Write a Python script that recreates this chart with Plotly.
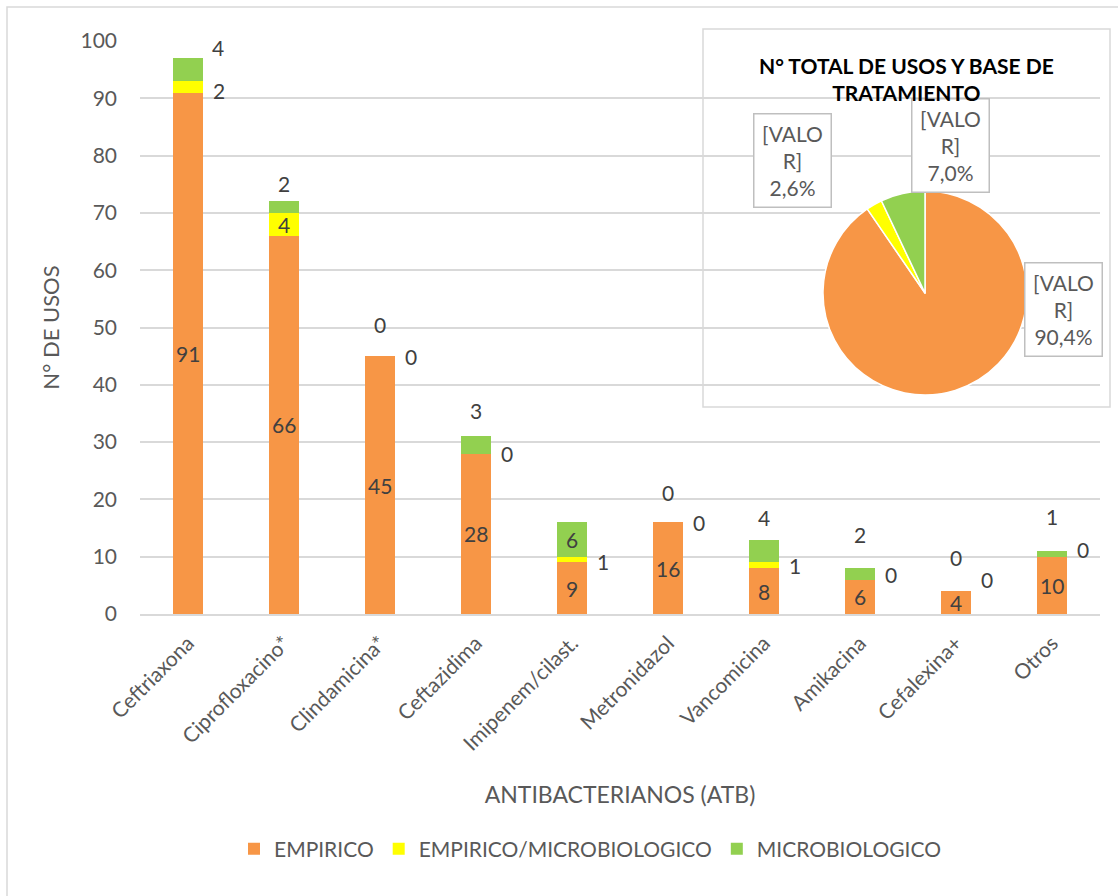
import plotly.graph_objects as go

# Antibacterial usage by treatment basis
antibioticos = ["Ceftriaxona", "Ciprofloxacino*", "Clindamicina*", "Ceftazidima",
                "Imipenem/cilast.", "Metronidazol", "Vancomicina", "Amikacina",
                "Cefalexina+", "Otros"]
empirico = [91, 66, 45, 28, 9, 16, 8, 6, 4, 10]
empirico_micro = [2, 4, 0, 0, 1, 0, 1, 0, 0, 0]
microbiologico = [4, 2, 0, 3, 6, 0, 4, 2, 0, 1]

series_names = ["EMPIRICO", "EMPIRICO/MICROBIOLOGICO", "MICROBIOLOGICO"]
colors = ["#F79646", "#FFFF00", "#92D050"]

# Data-label placement hints (pixels): where each stacked label sits
micro_inside = [False, False, False, False, True, False, False, False, False, False]
micro_dx = [30, 0, 0, 0, 0, 0, 0, 0, 0, 0]
micro_dy = [9, 16, 30, 24, 0, 28, 20, 32, 32, 32]
mixed_inside = [False, True, False, False, False, False, False, False, False, False]
mixed_dy = [-4, 0, 0, 0, -2, 0, 0, 5, 12, 7]

FONT = "Lato, 'Open Sans', sans-serif"
TXT = "#404040"
AX = "#595959"
GRID = "#D9D9D9"
LBL = 21

fig = go.Figure()
for name, vals, col in zip(series_names, [empirico, empirico_micro, microbiologico], colors):
    fig.add_trace(go.Bar(
        x=antibioticos, y=vals, name=name,
        marker=dict(color=col, line=dict(width=0)),
        width=0.315,
    ))


def data_label(cat, y, text, dx=0, dy=0):
    return dict(x=cat, y=y, xref="x", yref="y", text=text, showarrow=False,
                xanchor="center", yanchor="middle", xshift=dx, yshift=dy,
                font=dict(size=LBL, color=TXT, family=FONT))


annotations = []
for i, cat in enumerate(antibioticos):
    e, m, b = empirico[i], empirico_micro[i], microbiologico[i]
    total = e + m + b
    # EMPIRICO label centred in its segment
    annotations.append(data_label(cat, e / 2, str(e)))
    # EMPIRICO/MICROBIOLOGICO label
    if mixed_inside[i]:
        annotations.append(data_label(cat, e + m / 2, str(m)))
    else:
        annotations.append(data_label(cat, e + m / 2, str(m), dx=31, dy=mixed_dy[i]))
    # MICROBIOLOGICO label
    if micro_inside[i]:
        annotations.append(data_label(cat, e + m + b / 2, str(b)))
    else:
        annotations.append(data_label(cat, total, str(b), dx=micro_dx[i], dy=micro_dy[i] + 2))

# Inset pie: totals per treatment basis
totales = [sum(empirico), sum(empirico_micro), sum(microbiologico)]
gran_total = sum(totales)
porcentajes = [v / gran_total * 100 for v in totales]


def px_x(px):
    return (px - 140) / 960


def px_y(py):
    return (615 - py) / 573


fig.add_trace(go.Pie(
    values=totales, labels=series_names,
    marker=dict(colors=colors, line=dict(color="white", width=1.5)),
    sort=False, direction="clockwise", rotation=0,
    textinfo="none", hoverinfo="label+percent", showlegend=False,
    domain=dict(x=[px_x(823), px_x(1027)], y=[px_y(396), px_y(192)]),
))


def fmt_pct(p):
    return f"{p:.1f}".replace(".", ",") + "%"


label_pos = [(1063, 310), (792, 161), (950, 146)]  # EMP, EMP/MICRO, MICRO boxes (px)
for (px, py), p in zip(label_pos, porcentajes):
    annotations.append(dict(
        x=px_x(px), y=px_y(py), xref="paper", yref="paper",
        xanchor="center", yanchor="middle",
        text=f"[VALO<br>R]<br>{fmt_pct(p)}", showarrow=False, align="center",
        font=dict(size=21, color=AX, family=FONT),
        bgcolor="white", bordercolor="#BFBFBF", borderwidth=1.5, borderpad=6,
        width=64,
    ))

annotations.append(dict(
    x=px_x(906), y=px_y(80), xref="paper", yref="paper",
    xanchor="center", yanchor="middle",
    text="<b>N° TOTAL DE USOS Y BASE DE<br>TRATAMIENTO</b>", showarrow=False,
    font=dict(size=21, color="black", family=FONT), align="center",
))

shapes = [
    # inset panel background (covers gridlines, below traces)
    dict(type="rect", xref="paper", yref="paper",
         x0=px_x(703), x1=px_x(1110), y0=px_y(408), y1=px_y(30),
         fillcolor="white", line=dict(width=0), layer="between"),
    dict(type="rect", xref="paper", yref="paper",
         x0=px_x(703), x1=px_x(1110), y0=px_y(408), y1=px_y(30),
         fillcolor="rgba(0,0,0,0)", line=dict(color="#D9D9D9", width=1.5), layer="above"),
    # chart frame
    dict(type="rect", xref="paper", yref="paper",
         x0=px_x(7), x1=px_x(1130), y0=px_y(910), y1=px_y(8),
         fillcolor="rgba(0,0,0,0)", line=dict(color="#D9D9D9", width=1.5), layer="below"),
]

fig.update_layout(
    width=1118, height=896,
    barmode="stack",
    paper_bgcolor="white", plot_bgcolor="white",
    margin=dict(l=140, r=18, t=41, b=282),
    font=dict(family=FONT, color=AX),
    separators=",.",
    legend=dict(orientation="h", x=px_x(590), xanchor="center", y=px_y(850), yanchor="middle",
                font=dict(size=21, color=AX, family=FONT), traceorder="normal",
                itemwidth=30),
    annotations=annotations,
    shapes=shapes,
    xaxis=dict(
        tickangle=-45, tickfont=dict(size=21, color=AX, family=FONT),
        showgrid=False, showline=True, linecolor=GRID, linewidth=1.5,
        ticks="", ticklabelstandoff=7,
        title=dict(text="ANTIBACTERIANOS (ATB)", font=dict(size=23, color=AX, family=FONT),
                   standoff=33),
    ),
    yaxis=dict(
        range=[0, 100], tickvals=list(range(0, 101, 10)),
        tickfont=dict(size=21, color=AX, family=FONT),
        showgrid=True, gridcolor=GRID, gridwidth=1.5, zeroline=False,
        ticks="", ticklabelstandoff=22,
        title=dict(text="N° DE USOS", font=dict(size=22, color=AX, family=FONT), standoff=14),
    ),
    bargap=0.685,
)

fig.write_html("out.html")
